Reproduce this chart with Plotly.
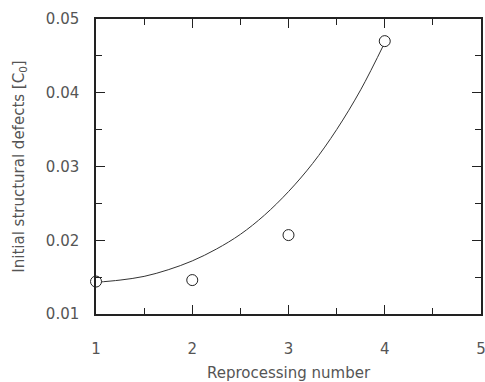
import plotly.graph_objects as go

# Measured data
reprocessing = [1, 2, 3, 4]
defects = [0.0144, 0.0146, 0.0207, 0.0470]

# Fitted curve
fit_x = [1.0, 1.25, 1.5, 1.75, 2.0, 2.25, 2.5, 2.75, 3.0, 3.25, 3.5, 3.75, 4.0]
fit_y = [0.0143, 0.0146, 0.0151, 0.0160, 0.0172, 0.0188, 0.0208, 0.0234,
         0.0266, 0.0304, 0.0350, 0.0404, 0.0468]

x_ticks = [1, 2, 3, 4, 5]
y_ticks = [0.01, 0.02, 0.03, 0.04, 0.05]

font = dict(family="DejaVu Sans, Arial, sans-serif", size=15, color="#555")

fig = go.Figure()
fig.add_trace(go.Scatter(x=fit_x, y=fit_y, mode="lines",
                         line=dict(color="#333", width=1, shape="spline"),
                         showlegend=False, hoverinfo="skip"))
fig.add_trace(go.Scatter(x=reprocessing, y=defects, mode="markers",
                         marker=dict(size=11, color="white",
                                     line=dict(color="#222", width=1)),
                         cliponaxis=False, showlegend=False))

axis_common = dict(showgrid=False, zeroline=False, showline=True,
                   linecolor="#222", linewidth=1.5, mirror="ticks",
                   ticks="inside", ticklen=9, tickwidth=1, tickcolor="#222",
                   tickfont=font, automargin=False, ticklabeloverflow="allow")

fig.update_xaxes(range=[1, 5], tickvals=x_ticks, ticktext=[str(v) for v in x_ticks],
                 ticklabelstandoff=20,
                 minor=dict(ticks="inside", dtick=0.5, ticklen=6, tickcolor="#222",
                            tickwidth=1, showgrid=False),
                 title=dict(text="Reprocessing number", font=font, standoff=12),
                 **axis_common)
fig.update_yaxes(range=[0.01, 0.05], tickvals=y_ticks,
                 ticktext=["0.01", "0.02", "0.03", "0.04", "0.05"],
                 ticklabelstandoff=12,
                 minor=dict(ticks="inside", dtick=0.005, ticklen=6, tickcolor="#222",
                            tickwidth=1, showgrid=False),
                 title=dict(text="Initial structural defects [C<sub>0</sub>]",
                            font=font, standoff=18),
                 **axis_common)

fig.update_layout(width=485, height=382,
                  margin=dict(l=96, r=4, t=19, b=68),
                  plot_bgcolor="white", paper_bgcolor="white", font=font)

fig.write_html("out.html")
